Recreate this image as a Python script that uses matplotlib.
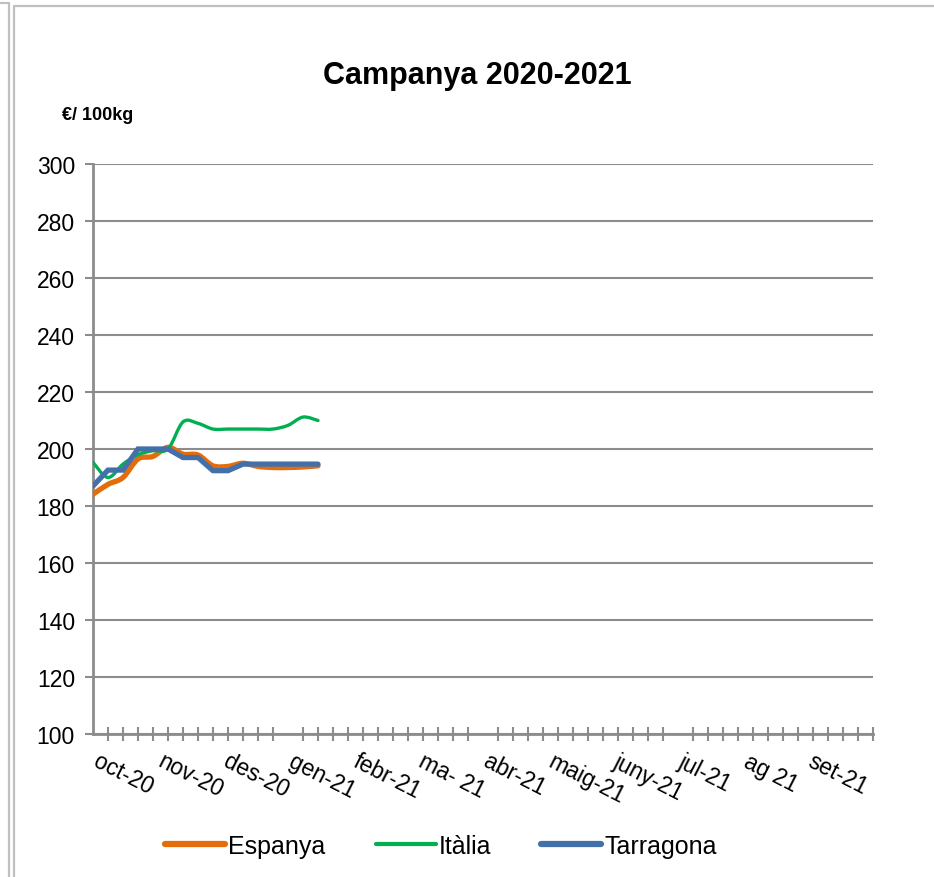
import matplotlib
matplotlib.use("Agg")
import matplotlib.pyplot as plt
from matplotlib.path import Path
from matplotlib.patches import PathPatch
from matplotlib.lines import Line2D
import matplotlib.transforms as mtransforms
import numpy as np

plt.rcParams['font.family'] = ['Liberation Sans', 'DejaVu Sans']

# ---- data ----
title = "Campanya 2020-2021"
unit_label = "€/ 100kg"
months = ["oct-20", "nov-20", "des-20", "gen-21", "febr-21", "ma- 21", "abr-21",
          "maig-21", "juny-21", "jul-21", "ag 21", "set-21"]
n_weeks = 52
espanya = [184.1, 187.6, 190.0, 196.5, 197.4, 200.6, 198.2, 197.9, 194.1, 193.9,
           195.0, 193.9, 193.5, 193.5, 193.7, 194.1]
italia = [195.3, 190.0, 194.7, 198.0, 199.4, 200.0, 209.5, 209.0, 207.0, 207.0,
          207.0, 207.0, 207.0, 208.3, 211.2, 210.0]
tarragona = [187.0, 192.6, 192.6, 200.0, 200.0, 200.0, 197.0, 197.0, 192.4, 192.4,
             194.7, 194.7, 194.7, 194.7, 194.7, 194.7]

c_esp = "#E46C0A"
c_ita = "#00B050"
c_tar = "#4470AA"
grid_c = "#8C8C8C"

W, H = 934, 878
fig = plt.figure(figsize=(W / 100, H / 100), dpi=100)
ax = fig.add_axes([93 / W, (H - 735) / H, (873 - 93) / W, (735 - 165) / H])


def smooth_path(xs, ys):
    xs = np.asarray(xs, float)
    ys = np.asarray(ys, float)
    pts = np.column_stack([xs, ys])
    verts = [pts[0]]
    codes = [Path.MOVETO]
    n = len(pts)
    for i in range(n - 1):
        p0 = pts[i - 1] if i > 0 else pts[i]
        p1 = pts[i]
        p2 = pts[i + 1]
        p3 = pts[i + 2] if i + 2 < n else pts[i + 1]
        c1 = p1 + (p2 - p0) / 6.0
        c2 = p2 - (p3 - p1) / 6.0
        verts += [c1, c2, p2]
        codes += [Path.CURVE4] * 3
    return Path(verts, codes)


x_esp = np.arange(len(espanya))
x_ita = np.arange(len(italia))
x_tar = np.arange(len(tarragona))

ax.add_patch(PathPatch(smooth_path(x_esp, espanya), fill=False, edgecolor=c_esp,
                       lw=3.8, capstyle='round', joinstyle='round', zorder=3))
ax.add_patch(PathPatch(smooth_path(x_ita, italia), fill=False, edgecolor=c_ita,
                       lw=2.4, capstyle='round', joinstyle='round', zorder=4))
ax.plot(x_tar, tarragona, color=c_tar, lw=3.8, solid_joinstyle='miter',
        solid_capstyle='round', zorder=5)

ax.set_xlim(0, n_weeks)
ax.set_ylim(100, 300)
ax.set_yticks(np.arange(100, 301, 20))
ax.grid(axis='y', color=grid_c, lw=1.5)
ax.set_axisbelow(True)

for s in ['top', 'right']:
    ax.spines[s].set_visible(False)
for s in ['left', 'bottom']:
    ax.spines[s].set_color(grid_c)
    ax.spines[s].set_linewidth(2)

ax.tick_params(axis='y', length=6, width=1.5, color=grid_c, labelsize=16.5, pad=7,
               direction='out')
# weekly minor ticks crossing the axis
ax.set_xticks(np.arange(0, n_weeks + 1), minor=True)
ax.tick_params(axis='x', which='minor', length=10, width=1.5, color=grid_c,
               direction='inout')
month_pos = [i * n_weeks / 12 for i in range(12)]
ax.set_xticks(month_pos)
ax.set_xticklabels(months, rotation=-27, ha='left', rotation_mode='anchor',
                   fontsize=16.5)
ax.tick_params(axis='x', which='major', length=0, pad=11)
offset = mtransforms.ScaledTranslation(7 / 100, 0, fig.dpi_scale_trans)
for lab in ax.get_xticklabels():
    lab.set_transform(lab.get_transform() + offset)

fig.text(477 / W, 1 - 76 / H, title, ha='center', va='center', fontsize=22,
         fontweight='bold')
fig.text(62 / W, 1 - 115 / H, unit_label, ha='left', va='center', fontsize=13,
         fontweight='bold')

handles = [Line2D([], [], color=c_esp, lw=4.5, solid_capstyle='round'),
           Line2D([], [], color=c_ita, lw=3, solid_capstyle='round'),
           Line2D([], [], color=c_tar, lw=4.5, solid_capstyle='round')]
fig.legend(handles, ["Espanya", "Itàlia", "Tarragona"], loc='center',
           bbox_to_anchor=(441 / W, 1 - 847 / H), ncol=3, frameon=False,
           fontsize=18, handlelength=2.4, handletextpad=0.12, columnspacing=2.0)

# outer frame lines
fc = "#C0C0C0"
fig.add_artist(Line2D([0, 8.5 / W, 8.5 / W], [1 - 4 / H, 1 - 4 / H, 0],
                      transform=fig.transFigure, color=fc, lw=1.6))
fig.add_artist(Line2D([14 / W, 14 / W, 1], [0, 1 - 7 / H, 1 - 7 / H],
                      transform=fig.transFigure, color=fc, lw=1.6))

fig.savefig("out.png", dpi=100)
